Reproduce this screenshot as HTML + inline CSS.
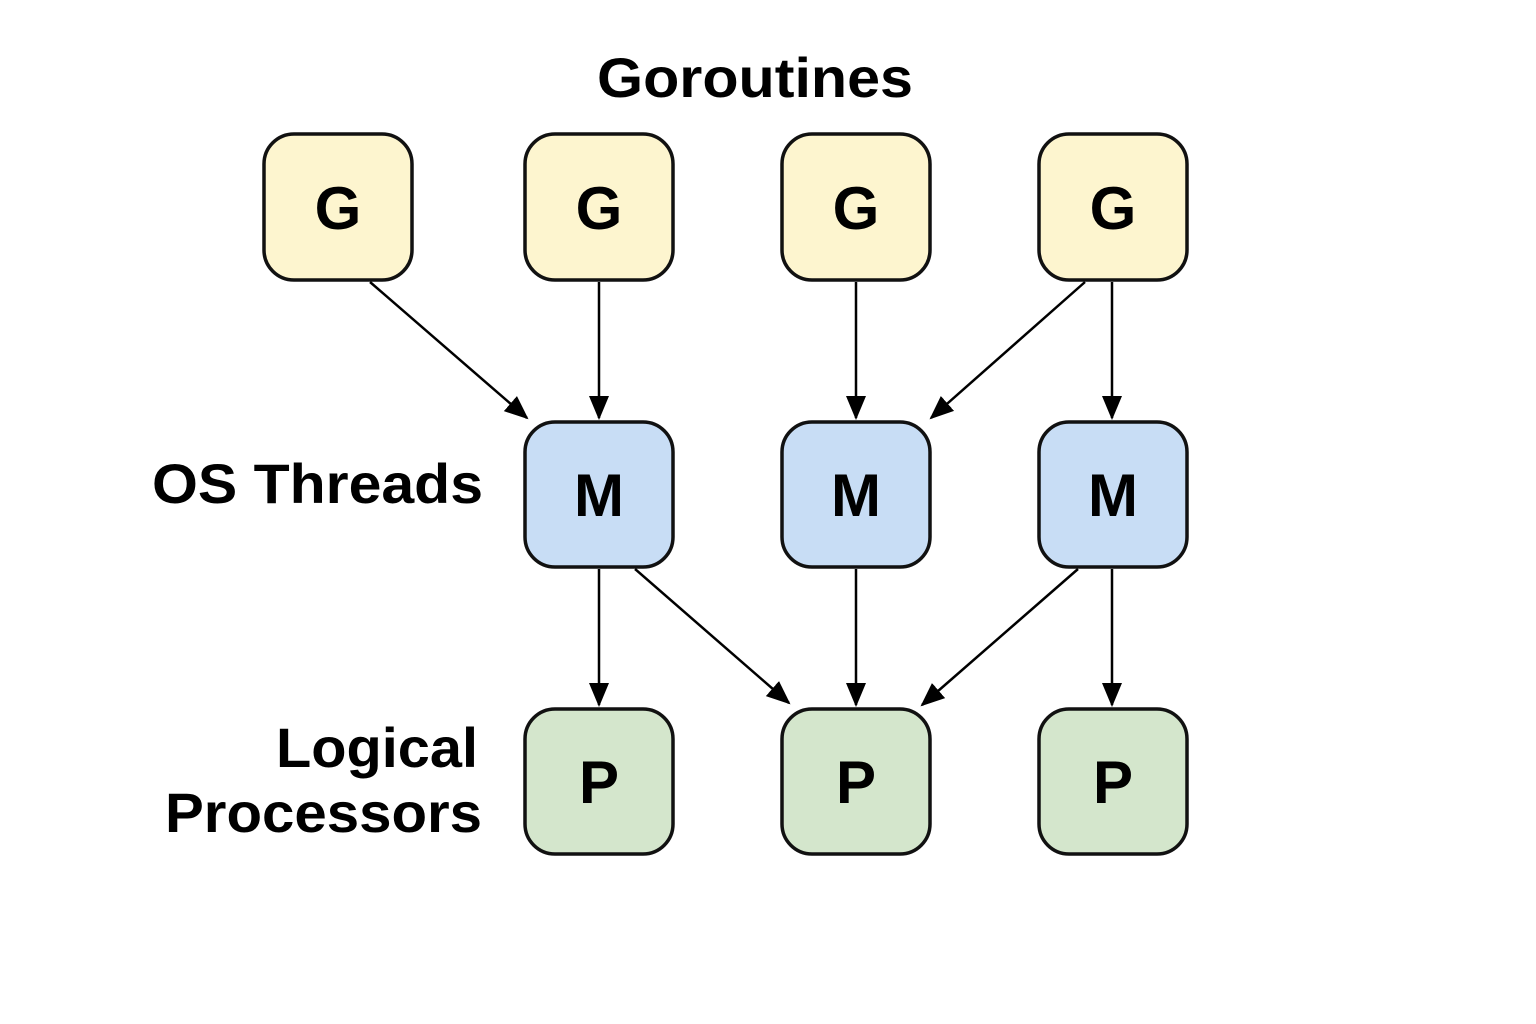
<!DOCTYPE html>
<html><head><meta charset="utf-8"><style>
body{margin:0;background:#fff;}
svg{display:block;font-family:"Liberation Sans",sans-serif;font-weight:bold;}
</style></head><body>
<svg width="1536" height="1024" viewBox="0 0 1536 1024">
<defs>
<marker id="b" markerWidth="24" markerHeight="24" refX="22" refY="12" orient="auto" markerUnits="userSpaceOnUse" viewBox="0 0 24 24"><path d="M0,2 L24,12 L0,22 z" fill="#000"/></marker></defs>
<text x="597" y="97" font-size="56" textLength="316" lengthAdjust="spacingAndGlyphs">Goroutines</text>
<text x="152" y="503" font-size="56" textLength="331" lengthAdjust="spacingAndGlyphs">OS Threads</text>
<text x="276" y="767" font-size="56" textLength="202" lengthAdjust="spacingAndGlyphs">Logical</text>
<text x="165" y="832" font-size="56" textLength="317" lengthAdjust="spacingAndGlyphs">Processors</text>
<g stroke="#111" stroke-width="3.5">
<rect x="264" y="134" width="148" height="146" rx="30" fill="#fdf5cf"/>
<rect x="525" y="134" width="148" height="146" rx="30" fill="#fdf5cf"/>
<rect x="782" y="134" width="148" height="146" rx="30" fill="#fdf5cf"/>
<rect x="1039" y="134" width="148" height="146" rx="30" fill="#fdf5cf"/>
<rect x="525" y="422" width="148" height="145" rx="30" fill="#c8ddf5"/>
<rect x="782" y="422" width="148" height="145" rx="30" fill="#c8ddf5"/>
<rect x="1039" y="422" width="148" height="145" rx="30" fill="#c8ddf5"/>
<rect x="525" y="709" width="148" height="145" rx="30" fill="#d4e6cc"/>
<rect x="782" y="709" width="148" height="145" rx="30" fill="#d4e6cc"/>
<rect x="1039" y="709" width="148" height="145" rx="30" fill="#d4e6cc"/>
</g>
<g font-size="60" text-anchor="middle">
<text x="338" y="229">G</text><text x="599" y="229">G</text><text x="856" y="229">G</text><text x="1113" y="229">G</text>
<text x="599" y="516">M</text><text x="856" y="516">M</text><text x="1113" y="516">M</text>
<text x="599" y="803">P</text><text x="856" y="803">P</text><text x="1113" y="803">P</text>
</g>
<g stroke="#000" stroke-width="2.5" marker-end="url(#b)">
<line x1="370" y1="282" x2="527" y2="418"/>
<line x1="599" y1="282" x2="599" y2="418"/>
<line x1="856" y1="282" x2="856" y2="418"/>
<line x1="1085" y1="282" x2="931" y2="418"/>
<line x1="1112" y1="282" x2="1112" y2="418"/>
<line x1="599" y1="569" x2="599" y2="705"/>
<line x1="635" y1="569" x2="789" y2="703"/>
<line x1="856" y1="569" x2="856" y2="705"/>
<line x1="1078" y1="569" x2="922" y2="705"/>
<line x1="1112" y1="569" x2="1112" y2="705"/>
</g>
</svg>
</body></html>
